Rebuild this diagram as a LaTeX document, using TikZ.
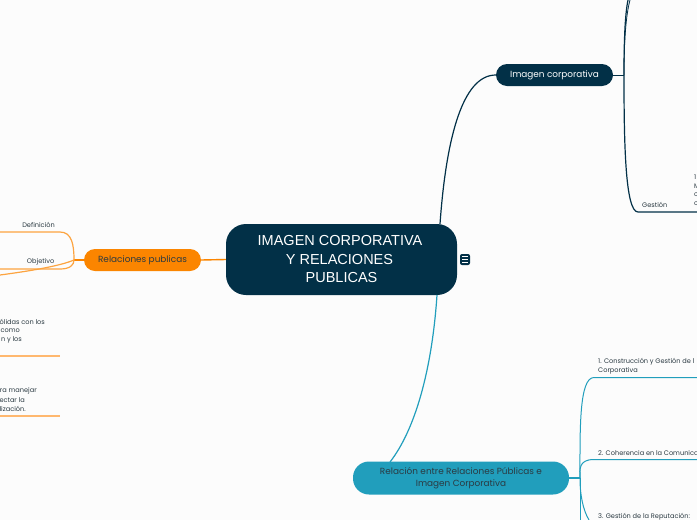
\documentclass[tikz,border=0pt]{standalone}
\usepackage{fontspec}
\setmainfont{Poppins}
\newfontfamily\rootfont{Liberation Sans}
\usepackage{tikz}

\definecolor{navyc}{HTML}{023047}
\definecolor{orangec}{HTML}{FB8500}
\definecolor{palec}{HTML}{FFB86F}
\definecolor{tealc}{HTML}{219EBC}
\definecolor{inkc}{HTML}{2B3A42}

\tikzset{
  topic/.style={rounded corners=11pt,inner sep=0pt,align=center,font=\fontsize{8.9}{12}\selectfont},
  leaf/.style={inner sep=0pt,text=inkc,font=\fontsize{6.6}{9}\selectfont},
  navyl/.style={draw=navyc,line width=1.2pt},
  orangel/.style={draw=orangec!75!white,line width=1.2pt},
  teall/.style={draw=tealc,line width=1.2pt}
}

\begin{document}
\begin{tikzpicture}[x=1pt,y=-1pt]
  \path[use as bounding box,clip] (0,0) rectangle (697,520);
  \fill[white!99!black] (0,0) rectangle (697,520);

  % main topics
  \node[fill=navyc,text=white,rounded corners=20pt,inner sep=0pt,minimum width=231pt,minimum height=71pt,align=center,
    font=\rootfont\fontsize{14.5}{18.5}\selectfont] (root) at (341.5,259.5) {\hspace{-3pt}IMAGEN CORPORATIVA\\\hspace{-4pt}Y RELACIONES\\ PUBLICAS};
  \node[fill=navyc,rounded corners=2pt,minimum width=10pt,minimum height=11pt,inner sep=0pt] (menu) at (465,259.5) {};
  \draw[white,line width=.7pt] (462,256.5) -- (468,256.5) (462,259.5) -- (468,259.5) (462,262.5) -- (468,262.5);
  \node[topic,fill=orangec,text=inkc,minimum width=117pt,minimum height=22pt] (rp) at (142.5,260) {\raisebox{-1pt}{Relaciones publicas}};
  \node[topic,fill=navyc,text=white,minimum width=117pt,minimum height=22pt] (ic) at (554.5,75) {\raisebox{-1pt}{Imagen corporativa}};
  \node[topic,fill=tealc,text=inkc,rounded corners=16pt,minimum width=216pt,minimum height=33pt] (rel) at (461,478)
    {\raisebox{-1pt}{Relación entre Relaciones Públicas e}\\\raisebox{-1pt}{Imagen Corporativa}};

  % free ends
  \coordinate (rootn) at (440,224);
  \coordinate (roots) at (437,295);
  \coordinate (relin) at (390,462);
  \coordinate (icj) at (624,75);
  \coordinate (rpj) at (74,260);
  \coordinate (relj) at (580,478);

  % from the root
  \draw[navyl] (rootn) .. controls (446,140) and (462,75) .. (ic.west);
  \draw[teall] (roots) .. controls (432,370) and (415,430) .. (relin);
  \draw[orangec,line width=1.4pt] (root.west) -- (rp.east);

  % imagen corporativa
  \coordinate (ic1) at (628,0);
  \coordinate (ic2) at (630,0);
  \coordinate (ic3) at (638,212);
  \coordinate (ic4) at (697,212);
  \draw[navyl,line width=.9pt] (ic.east) -- (icj);
  \draw[navyl] (icj) .. controls (624,40) and (625,15) .. (ic1);
  \draw[navyl,line width=.8pt] (icj) .. controls (624,40) and (626,15) .. (ic2);
  \draw[navyl] (icj) .. controls (624,140) and (625,212) .. (ic3) -- (ic4);
  \node[leaf,anchor=west] (gestion) at (642,204.5) {Gestión};
  \node[leaf,anchor=west] (ic5) at (694,177) {1};
  \node[leaf,anchor=west] (ic6) at (694,186) {M};
  \node[leaf,anchor=west] (ic7) at (694,195) {c};
  \node[leaf,anchor=west] (ic8) at (694,204) {c};

  % relaciones publicas
  \coordinate (rp1) at (60,232);
  \coordinate (rp2) at (0,232);
  \coordinate (rp3) at (60,269);
  \coordinate (rp4) at (0,269);
  \coordinate (rp5) at (0,275);
  \draw[orangec,line width=1.2pt] (rp.west) -- (rpj);
  \draw[orangel] (rpj) .. controls (74,245) and (72,232) .. (rp1) -- (rp2);
  \draw[orangel] (rpj) .. controls (74,265) and (70,269) .. (rp3) -- (rp4);
  \draw[orangel] (rpj) .. controls (60,266) and (30,271) .. (rp5);
  \node[leaf,anchor=east] (defin) at (55,224.5) {Definición};
  \node[leaf,anchor=east] (objet) at (54.5,261.5) {Objetivo};

  \node[leaf,anchor=east] (a1) at (45,322) {ólidas con los};
  \node[leaf,anchor=east] (a2) at (20,331) {como};
  \node[leaf,anchor=east] (a3) at (22,340) {n y los};
  \coordinate (a4) at (0,356);
  \coordinate (a5) at (60,356);
  \draw[palec,line width=1.4pt] (a4) -- (a5);
  \node[leaf,anchor=east] (b1) at (37,391) {ra manejar};
  \node[leaf,anchor=east] (b2) at (25,400) {ectar la};
  \node[leaf,anchor=east] (b3) at (26,409) {lización.};
  \coordinate (b4) at (0,416);
  \coordinate (b5) at (60,416);
  \draw[palec,line width=1.4pt] (b4) -- (b5);

  % relacion
  \coordinate (rel1) at (594,377.5);
  \coordinate (rel2) at (697,377.5);
  \coordinate (rel3) at (594,459.5);
  \coordinate (rel4) at (697,459.5);
  \coordinate (rel5) at (589,520);
  \coordinate (rel6) at (580,520);
  \draw[teall] (rel.east) -- (relj);
  \draw[teall,line width=1pt] (relj) .. controls (580,430) and (579,377.5) .. (rel1) -- (rel2);
  \draw[teall,line width=1pt] (relj) .. controls (580,470) and (578,459.5) .. (rel3) -- (rel4);
  \draw[teall,line width=1pt] (relj) .. controls (580,495) and (583,510) .. (rel5);
  \draw[teall,line width=1pt] (relj) -- (rel6);
  \node[leaf,anchor=west,align=left] (c1) at (598,366) {1. Construcción y Gestión de l\\Corporativa};
  \node[leaf,anchor=west] (c2) at (598,453) {2. Coherencia en la Comunica};
  \node[leaf,anchor=west] (c3) at (598,516.5) {3. Gestión de la Reputación:};
\end{tikzpicture}
\end{document}
